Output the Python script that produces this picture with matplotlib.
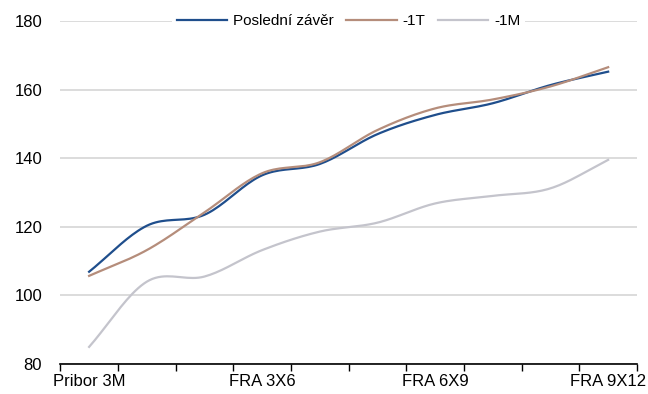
import numpy as np
import matplotlib
matplotlib.use('Agg')
import matplotlib.pyplot as plt

plt.rcParams['font.family'] = ['Liberation Sans', 'DejaVu Sans']

categories = ['Pribor 3M', 'FRA 1X4', 'FRA 2X5', 'FRA 3X6', 'FRA 4X7',
              'FRA 5X8', 'FRA 6X9', 'FRA 7X10', 'FRA 8X11', 'FRA 9X12']
last_close = [106.9, 120.3, 123.5, 135.0, 138.3, 147.0, 152.6, 156.0, 161.3, 165.2]
minus_1d = [105.7, 113.2, 124.2, 135.6, 138.8, 148.2, 154.5, 157.1, 160.9, 166.5]
minus_1m = [85.0, 104.0, 105.5, 113.2, 118.6, 121.2, 126.8, 129.0, 131.2, 139.5]
shown_labels = [0, 3, 6, 9]


def smooth(y, steps=20):
    # catmull-rom style smoothing like the Excel "smoothed line"
    y = np.asarray(y, float)
    p = np.concatenate([[2 * y[0] - y[1]], y, [2 * y[-1] - y[-2]]])
    xs, ys = [], []
    for i in range(len(y) - 1):
        p0, p1, p2, p3 = p[i], p[i + 1], p[i + 2], p[i + 3]
        t = np.linspace(0, 1, steps, endpoint=False)
        v = 0.5 * ((2 * p1) + (-p0 + p2) * t + (2 * p0 - 5 * p1 + 4 * p2 - p3) * t ** 2
                   + (-p0 + 3 * p1 - 3 * p2 + p3) * t ** 3)
        xs.append(i + t)
        ys.append(v)
    xs.append([len(y) - 1])
    ys.append([y[-1]])
    return np.concatenate(xs), np.concatenate(ys)


fig = plt.figure(figsize=(6.48, 3.94), dpi=100)
ax = fig.add_axes([0.093, 0.076, 0.890, 0.871])

series = [(last_close, 'Poslední závěr', '#1F4E8C'),
          (minus_1d, '-1T', '#B58D7B'),
          (minus_1m, '-1M', '#C4C4CC')]
for vals, name, col in series:
    sx, sy = smooth(vals)
    ax.plot(sx, sy, color=col, linewidth=1.6, label=name, zorder=3)

ax.set_xlim(-0.5, len(categories) - 0.5)
ax.set_ylim(80, 180)
ax.set_yticks(np.arange(80, 181, 20))
ax.grid(axis='y', color='#D9D9D9', linewidth=1.3, zorder=0)
ax.set_axisbelow(True)

ax.set_xticks(shown_labels)
ax.set_xticklabels([categories[i] for i in shown_labels])
ax.set_xticks(np.arange(-0.5, len(categories), 1), minor=True)
ax.tick_params(axis='x', which='major', length=0, labelsize=12, pad=7)
ax.tick_params(axis='x', which='minor', length=5, width=1, color='black', direction='out')
ax.tick_params(axis='y', length=0, labelsize=12, pad=13)

for s in ['top', 'right', 'left']:
    ax.spines[s].set_visible(False)
ax.spines['bottom'].set_color('black')
ax.spines['bottom'].set_linewidth(1.2)

leg = ax.legend(loc='center', bbox_to_anchor=(0.5, 1.0), ncol=3, frameon=True,
                fontsize=11, handlelength=3.3, columnspacing=0.8, handletextpad=0.4,
                borderpad=0.3, fancybox=False)
leg.get_frame().set_edgecolor('none')
leg.get_frame().set_facecolor('white')
leg.get_frame().set_alpha(1)

fig.savefig('out.png', dpi=100)
